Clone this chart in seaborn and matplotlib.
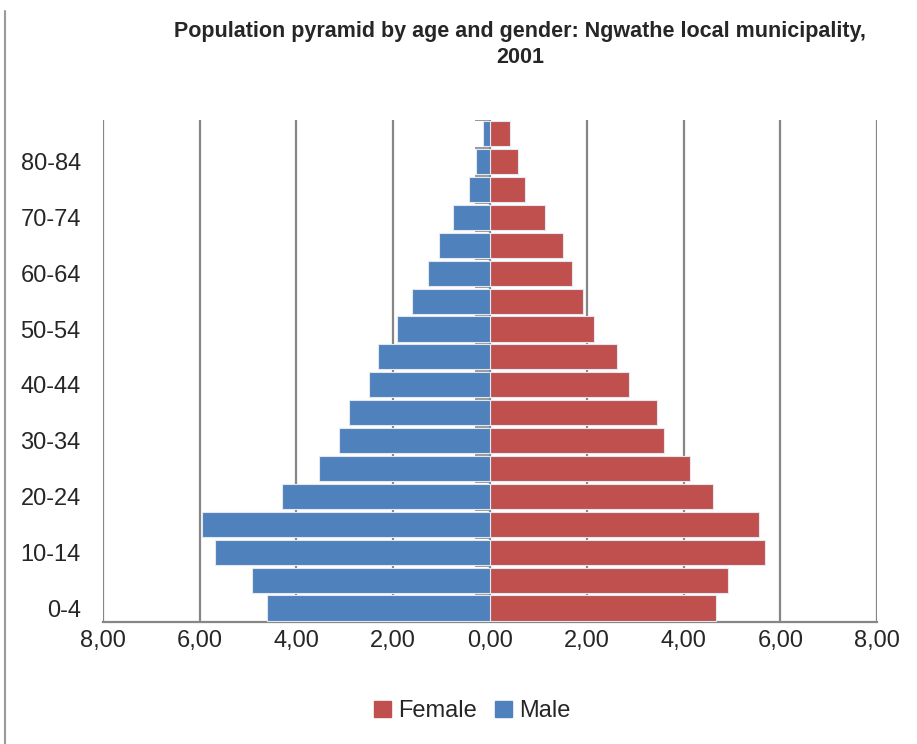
import numpy as np
import pandas as pd
import matplotlib
matplotlib.use("Agg")
import matplotlib.pyplot as plt
import seaborn as sns

# age groups, bottom to top
ages = ["0-4", "5-9", "10-14", "15-19", "20-24", "25-29", "30-34", "35-39", "40-44",
        "45-49", "50-54", "55-59", "60-64", "65-69", "70-74", "75-79", "80-84", "85+"]
male = [4.61, 4.92, 5.69, 5.95, 4.29, 3.53, 3.12, 2.92, 2.51,
        2.31, 1.92, 1.61, 1.29, 1.05, 0.76, 0.43, 0.29, 0.14]
female = [4.67, 4.91, 5.69, 5.56, 4.61, 4.14, 3.60, 3.46, 2.88,
          2.63, 2.16, 1.93, 1.70, 1.50, 1.13, 0.72, 0.57, 0.42]
xticks = [-8, -6, -4, -2, 0, 2, 4, 6, 8]
genders = ["Female", "Male"]
colors = {"Female": "#C0504D", "Male": "#4F81BD"}

df = pd.DataFrame({
    "age": ages * 2,
    "value": list(female) + [-v for v in male],
    "Gender": ["Female"] * len(ages) + ["Male"] * len(ages),
})

sns.set_style("white")
plt.rcParams["font.family"] = ["Liberation Sans", "DejaVu Sans"]

fig = plt.figure(figsize=(9.17, 7.44), dpi=100)
ax = fig.add_axes([0.1123, 0.164, 0.8441, 0.675])

sns.barplot(data=df, x="value", y="age", hue="Gender", hue_order=genders,
            order=ages[::-1], palette=colors, saturation=1, dodge=False, width=0.9,
            edgecolor="#e3e8f0", linewidth=0.8, ax=ax, zorder=3)

ax.set_xlim(xticks[0], xticks[-1])
ax.set_xticks(xticks)
ax.set_xticklabels([f"{abs(v):.2f}".replace(".", ",") for v in xticks], fontsize=17)
ax.xaxis.grid(True, color="#868686", linewidth=1.6, zorder=0)
ax.tick_params(axis="x", direction="out", length=5, color="#868686", width=1.2, pad=1)

# labels every other group, 85+ left blank
n = len(ages)
ax.set_yticks(range(n))
ax.set_yticklabels([a if (n - 1 - i) % 2 == 0 and a != "85+" else "" for i, a in enumerate(ages[::-1])],
                   fontsize=17)
ax.tick_params(axis="y", length=0, pad=16)
ax.set_ylim(n - 0.5, -0.5)

# category axis at zero with small ticks
ax.axvline(0, color="#868686", linewidth=1.2, zorder=2)
ax.hlines(np.arange(n) - 0.5, -0.3, 0, color="#868686", linewidth=1.2, zorder=2)

for s in ["top", "right", "left"]:
    ax.spines[s].set_visible(False)
ax.spines["bottom"].set_color("#868686")
ax.spines["bottom"].set_linewidth(1.6)
ax.set_xlabel("")
ax.set_ylabel("")

fig.suptitle("Population pyramid by age and gender: Ngwathe local municipality,\n2001",
             x=0.567, y=0.972, fontsize=15.5, fontweight="bold", linespacing=1.35)

ax.get_legend().remove()
handles = [plt.Rectangle((0, 0), 1, 1, color=colors[g]) for g in genders]
fig.legend(handles, genders, loc="center", bbox_to_anchor=(0.515, 0.044), ncol=2,
           frameon=False, fontsize=17, handlelength=0.7, handleheight=0.7,
           handletextpad=0.3, columnspacing=0.8)

# frame on the left edge like the source
fig.add_artist(plt.Line2D([0.005, 0.005], [0, 0.985], color="#9a9a9a", linewidth=1.5))

fig.savefig("out.png", dpi=100)
